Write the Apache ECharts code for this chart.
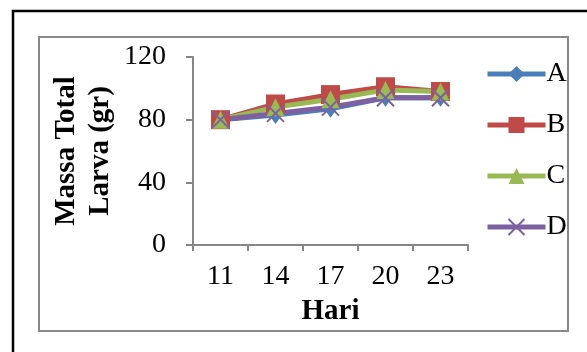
<!DOCTYPE html>
<html><head><meta charset="utf-8">
<script src="https://cdn.jsdelivr.net/npm/echarts@6/dist/echarts.min.js"></script>
<style>html,body{margin:0;padding:0;background:#fff}#c{width:587px;height:352px}</style>
</head><body><div id="c"></div>
<script>
const categories = ['11','14','17','20','23'];
const seriesA = [80, 83, 87, 94, 94];
const seriesB = [80, 90, 96, 101, 98];
const seriesC = [80, 88, 93, 99, 98];
const seriesD = [80, 84, 88, 94, 94];
const yTicks = [0, 40, 80, 120];
const seriesNames = ['A','B','C','D'];

const FONT = '"Liberation Serif", "Times New Roman", serif';
const colors = ['#4A7EBB','#BE4B48','#98B954','#7D60A0'];
const crossPath = 'path://M0,0 L10,10 M10,0 L0,10';

const chart = echarts.init(document.getElementById('c'), null, {renderer:'canvas'});
function mk(name, data, color, symbol, size, extra) {
  return Object.assign({
    name, type:'line', data, symbol, symbolSize:size,
    lineStyle:{color, width:5}, itemStyle:{color},
    emphasis:{disabled:true}, animation:false
  }, extra||{});
}
chart.setOption({
  animation:false,
  textStyle:{fontFamily:FONT},
  grid:{left:193, right:119, top:57, bottom:107},
  xAxis:{
    type:'category', data:categories, boundaryGap:true,
    axisLine:{lineStyle:{color:'#868686', width:2}},
    axisTick:{show:true, alignWithLabel:false, length:6, lineStyle:{color:'#868686', width:2}},
    axisLabel:{color:'#000', fontSize:28, fontFamily:FONT, margin:18},
    name:'Hari', nameLocation:'middle', nameGap:52,
    nameTextStyle:{color:'#000', fontSize:29, fontWeight:'bold', fontFamily:FONT}
  },
  yAxis:{
    type:'value', min:yTicks[0], max:yTicks[yTicks.length-1], interval:40,
    axisLine:{show:true, lineStyle:{color:'#868686', width:2}},
    axisTick:{show:true, length:7, lineStyle:{color:'#868686', width:2}},
    splitLine:{show:false},
    axisLabel:{color:'#000', fontSize:28, fontFamily:FONT, margin:27}
  },
  legend:{
    orient:'vertical', left:480, top:55, itemGap:23,
    itemWidth:58, itemHeight:20,
    lineStyle:{width:5},
    textStyle:{color:'#000', fontSize:28, fontFamily:FONT, padding:[0,0,0,-4]},
    data:seriesNames
  },
  graphic:[
    {type:'rect', shape:{x:13, y:11, width:590, height:360}, style:{fill:null, stroke:'#000', lineWidth:2.5}, silent:true, z:-10},
    {type:'rect', shape:{x:39, y:37, width:529, height:294}, style:{fill:null, stroke:'#888', lineWidth:2}, silent:true, z:-10},
    {type:'text', x:84, y:151, rotation:Math.PI/2,
     style:{text:'Massa Total\nLarva (gr)', fill:'#000', font:'bold 29px '+FONT, align:'center', verticalAlign:'middle', lineHeight:34}}
  ],
  series:[
    mk(seriesNames[0], seriesA, colors[0], 'diamond', [13,18]),
    mk(seriesNames[1], seriesB, colors[1], 'rect', 19),
    mk(seriesNames[2], seriesC, colors[2], 'triangle', 18),
    mk(seriesNames[3], seriesD, colors[3], crossPath, 17, {itemStyle:{color:colors[3], borderColor:colors[3], borderWidth:2}})
  ]
});
</script></body></html>
